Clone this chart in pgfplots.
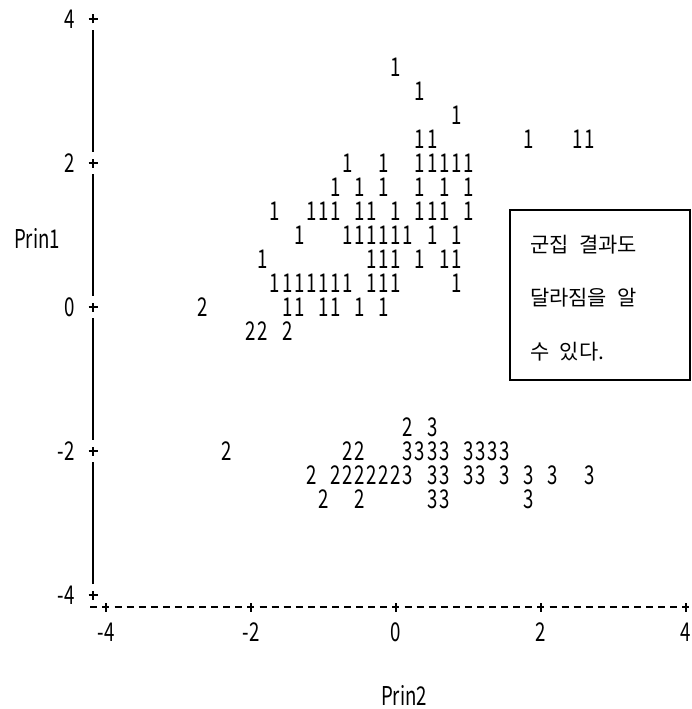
\documentclass[border=0pt]{standalone}
\usepackage{fontspec}
\usepackage{pgfplots}
\pgfplotsset{compat=1.18}
\setmainfont{Noto Sans CJK KR}
\newfontfamily\prt[FakeStretch=0.72]{Noto Sans CJK KR}
\newcommand\pf{\prt\fontsize{26}{26}\selectfont}
\newcommand\kf{\fontsize{21}{21}\selectfont}
\begin{document}
\begin{tikzpicture}
\begin{axis}[
  scale only axis, width=691bp, height=709bp,
  xmin=-5.462, xmax=4.069, ymin=-5.583, ymax=4.264,
  hide axis, clip=false,
  text mark as node=true,
  text mark style={font=\pf, inner sep=0pt, anchor=center, text=black},
]
\path (rel axis cs:0,0) rectangle (rel axis cs:1,1);
% cluster 1
\addplot[only marks, color=black, mark=text, text mark={1}] coordinates {
(0,3.333)
(0.333,3)
(0.833,2.667)
(0.333,2.333) (0.5,2.333) (1.833,2.333) (2.5,2.333) (2.667,2.333)
(-0.667,2) (-0.167,2) (0.333,2) (0.5,2) (0.667,2) (0.833,2) (1,2)
(-0.833,1.667) (-0.5,1.667) (-0.167,1.667) (0.333,1.667) (0.667,1.667) (1,1.667)
(-1.667,1.333) (-1.167,1.333) (-1,1.333) (-0.833,1.333) (-0.5,1.333) (-0.333,1.333) (0,1.333) (0.333,1.333) (0.5,1.333) (0.667,1.333) (1,1.333)
(-1.333,1) (-0.667,1) (-0.5,1) (-0.333,1) (-0.167,1) (0,1) (0.167,1) (0.5,1) (0.833,1)
(-1.833,0.667) (-0.333,0.667) (-0.167,0.667) (0,0.667) (0.333,0.667) (0.667,0.667) (0.833,0.667)
(-1.667,0.333) (-1.5,0.333) (-1.333,0.333) (-1.167,0.333) (-1,0.333) (-0.833,0.333) (-0.667,0.333) (-0.333,0.333) (-0.167,0.333) (0,0.333) (0.833,0.333)
(-1.5,0) (-1.333,0) (-1,0) (-0.833,0) (-0.5,0) (-0.167,0)
};
% cluster 2
\addplot[only marks, color=black, mark=text, text mark={2}] coordinates {
(-2.667,0) (-2,-0.333) (-1.833,-0.333) (-1.5,-0.333)
(0.167,-1.667)
(-2.333,-2) (-0.667,-2) (-0.5,-2)
(-1.167,-2.333) (-0.833,-2.333) (-0.667,-2.333) (-0.5,-2.333) (-0.333,-2.333) (-0.167,-2.333) (0,-2.333)
(-1,-2.667) (-0.5,-2.667)
};
% cluster 3
\addplot[only marks, color=black, mark=text, text mark={3}] coordinates {
(0.5,-1.667)
(0.167,-2) (0.333,-2) (0.5,-2) (0.667,-2) (1,-2) (1.167,-2) (1.333,-2) (1.5,-2)
(0.167,-2.333) (0.5,-2.333) (0.667,-2.333) (1,-2.333) (1.167,-2.333) (1.5,-2.333) (1.833,-2.333) (2.167,-2.333) (2.667,-2.333)
(0.5,-2.667) (0.667,-2.667) (1.833,-2.667)
};
% vertical axis (line printer style)
\draw[line width=1.5bp] (axis cs:-4.179,-3.847) -- (axis cs:-4.179,-2.153)
  (axis cs:-4.179,-1.847) -- (axis cs:-4.179,-0.153)
  (axis cs:-4.179,0.153) -- (axis cs:-4.179,1.847)
  (axis cs:-4.179,2.153) -- (axis cs:-4.179,3.847);
\pgfplotsinvokeforeach{-4,-2,0,2,4}{
  \draw[line width=1.5bp] ([xshift=-4.5bp]axis cs:-4.179,#1) -- ([xshift=4.5bp]axis cs:-4.179,#1)
    ([yshift=-4.5bp]axis cs:-4.179,#1) -- ([yshift=4.5bp]axis cs:-4.179,#1);
  \node[anchor=east, inner sep=0pt, font=\pf] at (axis cs:-4.428,#1) {#1};
}
% horizontal axis (dashed)
\draw[line width=1.5bp, dash pattern=on 7bp off 5.083bp] (axis cs:-4.215,-4.167) -- (axis cs:4.048,-4.167);
\pgfplotsinvokeforeach{-4,-2,0,2,4}{
  \draw[line width=1.5bp] ([yshift=-4.5bp]axis cs:#1,-4.167) -- ([yshift=4.5bp]axis cs:#1,-4.167);
  \node[inner sep=0pt, font=\pf] at (axis cs:#1,-4.514) {#1};
}
% axis labels
\node[inner sep=0pt, font=\pf] at (axis cs:-4.952,0.958) {Prin1};
\node[inner sep=0pt, font=\pf] at (axis cs:0.11,-5.389) {Prin2};
% annotation box
\draw[line width=1.5bp] (axis cs:4.055,1.347) -- (axis cs:1.572,1.347) -- (axis cs:1.572,-1.014) -- (axis cs:4.055,-1.014) -- cycle;
\node[anchor=west, inner sep=0pt, font=\kf] at (axis cs:1.848,0.861) {군집\hspace{0.5em}결과도};
\node[anchor=west, inner sep=0pt, font=\kf] at (axis cs:1.848,0.125) {달라짐을\hspace{0.5em}알};
\node[anchor=west, inner sep=0pt, font=\kf] at (axis cs:1.848,-0.625) {수\hspace{0.5em}있다.};
\end{axis}
\end{tikzpicture}
\end{document}
